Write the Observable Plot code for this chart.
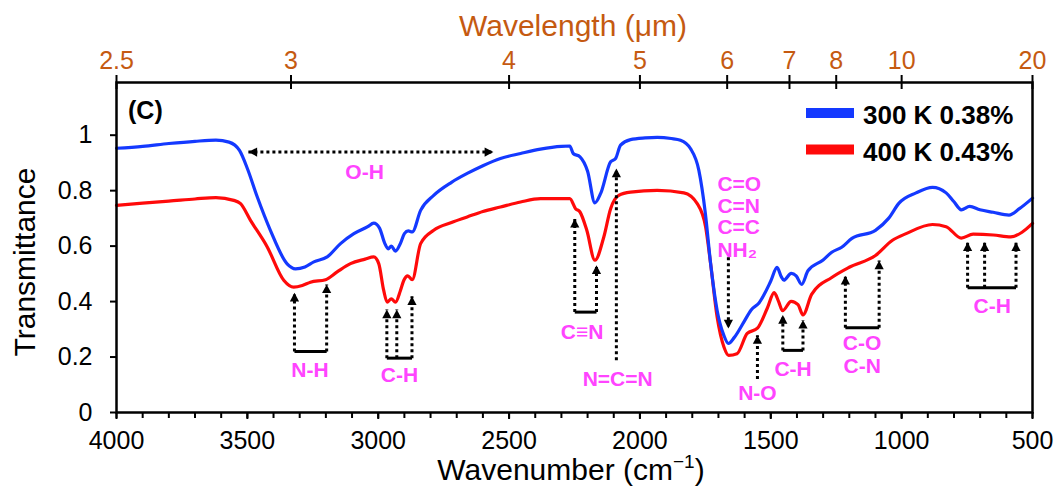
<!DOCTYPE html>
<html><head><meta charset="utf-8">
<script src="https://cdn.jsdelivr.net/npm/d3@7"></script>
<script src="https://cdn.jsdelivr.net/npm/@observablehq/plot@0.6"></script>
<style>
body{margin:0;background:#fff;}
#chart{width:1057px;height:488px;}
</style></head><body><div id="chart"></div>
<script>
const FONT = "'Liberation Sans', Arial, Helvetica, sans-serif";
const PINK = "#ff44ff";
const BLUE = "#1439ff";
const RED = "#ff0a0a";
const ORANGE = "#c55a11";

// 300 K 0.38% (blue)
const wn300 = [4000,3900,3800,3700,3620,3570,3530,3500,3462,3412,3348,3316,3280,3246,3195,3144,3093,3040,3017,2995,2975,2962,2950,2934,2915,2900,2885,2870,2838,2788,2720,2660,2600,2533,2456,2380,2300,2268,2255,2229,2200,2172,2150,2112,2093,2074,2036,1980,1934,1880,1845,1807,1775,1750,1730,1705,1680,1662,1640,1602,1575,1545,1500,1476,1460,1450,1422,1403,1382,1358,1300,1267,1229,1190,1100,1050,1010,945,882,830,800,772,740,701,650,590,550,500];
const t300 = [0.953,0.960,0.970,0.978,0.982,0.975,0.945,0.880,0.777,0.657,0.536,0.518,0.525,0.543,0.561,0.609,0.645,0.670,0.683,0.665,0.610,0.590,0.600,0.582,0.610,0.645,0.655,0.651,0.729,0.783,0.830,0.862,0.890,0.916,0.934,0.950,0.960,0.961,0.934,0.922,0.870,0.756,0.790,0.904,0.916,0.964,0.984,0.990,0.992,0.988,0.982,0.952,0.874,0.718,0.538,0.368,0.280,0.249,0.270,0.328,0.370,0.395,0.474,0.523,0.490,0.477,0.502,0.493,0.462,0.511,0.550,0.578,0.596,0.628,0.657,0.700,0.755,0.792,0.812,0.792,0.760,0.731,0.743,0.731,0.722,0.712,0.735,0.773];

// 400 K 0.43% (red)
const wn400 = [4000,3900,3800,3700,3620,3552,3526,3488,3424,3361,3323,3290,3259,3201,3157,3106,3050,3017,2998,2979,2966,2950,2934,2915,2902,2887,2870,2838,2788,2720,2660,2600,2533,2456,2380,2268,2246,2229,2203,2172,2138,2112,2081,2036,1934,1832,1781,1749,1730,1705,1679,1661,1629,1590,1551,1513,1487,1470,1455,1422,1396,1377,1344,1267,1202,1100,1035,983,882,830,772,727,650,583,540,500];
const t400 = [0.747,0.755,0.762,0.770,0.775,0.765,0.753,0.693,0.597,0.477,0.452,0.458,0.470,0.479,0.507,0.537,0.553,0.561,0.537,0.440,0.398,0.410,0.398,0.440,0.477,0.493,0.479,0.609,0.657,0.685,0.705,0.725,0.741,0.759,0.771,0.771,0.735,0.723,0.657,0.549,0.633,0.735,0.783,0.795,0.801,0.792,0.753,0.669,0.537,0.344,0.236,0.206,0.212,0.285,0.304,0.377,0.432,0.400,0.367,0.401,0.389,0.352,0.426,0.487,0.523,0.566,0.621,0.645,0.678,0.670,0.629,0.643,0.640,0.633,0.650,0.682];

const seriesNames = ["300 K 0.38%", "400 K 0.43%"];

// axes ticks
const wavenumberTicks = [4000,3500,3000,2500,2000,1500,1000,500];
const minorTicks = d3.range(500, 4001, 100);
const wavelengthTicks = [2.5,3,4,5,6,7,8,10,20];
const yTicks = [0,0.2,0.4,0.6,0.8,1];

// annotations (wavenumber, transmittance)
const upArrows = [
  {x:3320, base:0.220, tip:0.432}, {x:3197, base:0.220, tip:0.462},
  {x:2967, base:0.196, tip:0.371}, {x:2929, base:0.196, tip:0.371}, {x:2871, base:0.196, tip:0.419},
  {x:2249, base:0.362, tip:0.699}, {x:2166, base:0.362, tip:0.531},
  {x:2090, base:0.188, tip:0.880},
  {x:1551, base:0.121, tip:0.279},
  {x:1454, base:0.224, tip:0.352}, {x:1377, base:0.224, tip:0.334},
  {x:1215, base:0.306, tip:0.493}, {x:1086, base:0.306, tip:0.548},
  {x:748, base:0.450, tip:0.614}, {x:683, base:0.450, tip:0.614}, {x:563, base:0.450, tip:0.614}
];
const downArrows = [{x:1662, base:0.560, tip:0.303}];
const brackets = [
  {x1:3320, x2:3197, y:0.220},
  {x1:2967, x2:2871, y:0.196},
  {x1:2249, x2:2166, y:0.362},
  {x1:1454, x2:1377, y:0.224},
  {x1:1215, x2:1086, y:0.306},
  {x1:748, x2:563, y:0.450}
];
const hArrows = [{x1:3496, x2:2560, y:0.939}];
const labels = [
  {x:3052, y:0.866, text:"O-H"},
  {x:3261, y:0.151, text:"N-H"},
  {x:2919, y:0.133, text:"C-H"},
  {x:2221, y:0.290, text:"C≡N"},
  {x:2085, y:0.121, text:"N=C=N"},
  {x:1551, y:0.069, text:"N-O"},
  {x:1415, y:0.157, text:"C-H"},
  {x:1151, y:0.249, text:"C-O"},
  {x:1151, y:0.167, text:"C-N"},
  {x:654, y:0.383, text:"C-H"}
];
const stackLabels = [
  {x:1704, y:0.822, text:"C=O"},
  {x:1704, y:0.743, text:"C=N"},
  {x:1704, y:0.667, text:"C=C"},
  {x:1704, y:0.585, text:"NH₂"}
];

const s300 = wn300.map((x,i)=>({x, y:t300[i]}));
const s400 = wn400.map((x,i)=>({x, y:t400[i]}));

function tri(dir){
  return {draw(ctx, size){
    const r = Math.sqrt(size/Math.PI), h = 1.9*r;
    if (dir==="up"){ctx.moveTo(0,0);ctx.lineTo(r,h);ctx.lineTo(-r,h);}
    else if (dir==="down"){ctx.moveTo(0,0);ctx.lineTo(r,-h);ctx.lineTo(-r,-h);}
    else if (dir==="left"){ctx.moveTo(0,0);ctx.lineTo(h,r);ctx.lineTo(h,-r);}
    else {ctx.moveTo(0,0);ctx.lineTo(-h,r);ctx.lineTo(-h,-r);}
    ctx.closePath();
  }};
}

const dotted = {stroke:"black", strokeWidth:3, strokeDasharray:"3,3"};
const pinkText = {fill:PINK, fontWeight:"bold", fontSize:21, fontFamily:FONT};

const chart = Plot.plot({
  width:1057, height:488,
  marginLeft:116, marginRight:25, marginTop:82, marginBottom:76,
  style:{fontFamily:FONT, background:"white", color:"black", overflow:"visible"},
  x:{domain:[4000,500]},
  y:{domain:[0,1.19]},
  marks:[
    Plot.axisY({ticks:yTicks, tickSize:6, tickPadding:18, fontSize:25, tickFormat:d3.format("~g"), label:null, strokeWidth:2}),
    Plot.axisX({ticks:minorTicks, tickSize:6, tickFormat:()=>"", label:null, strokeWidth:2}),
    Plot.axisX({ticks:wavenumberTicks, tickSize:7, tickPadding:12, fontSize:25, tickFormat:d=>String(d), label:null, strokeWidth:2}),
    Plot.axisX({anchor:"top", ticks:wavelengthTicks.map(l=>1e4/l), tickSize:8, tickPadding:6, fontSize:25,
      tickFormat:d=>d3.format("~g")(+(1e4/d).toFixed(2)), label:null, fill:ORANGE, stroke:"black", strokeWidth:2}),
    Plot.axisX({anchor:"top", ticks:wavelengthTicks.map(l=>1e4/l), tickSize:-6, tickFormat:()=>"", label:null, stroke:"black", strokeWidth:2}),
    Plot.line(s400, {x:"x", y:"y", stroke:RED, strokeWidth:3.2, curve:"monotone-x"}),
    Plot.line(s300, {x:"x", y:"y", stroke:BLUE, strokeWidth:3.2, curve:"monotone-x"}),
    Plot.link(upArrows, {x1:"x", x2:"x", y1:"base", y2:"tip", ...dotted}),
    Plot.link(downArrows, {x1:"x", x2:"x", y1:"base", y2:"tip", ...dotted}),
    Plot.link(hArrows, {x1:"x1", x2:"x2", y1:"y", y2:"y", ...dotted}),
    Plot.link(brackets, {x1:"x1", x2:"x2", y1:"y", y2:"y", stroke:"black", strokeWidth:3}),
    Plot.dot(upArrows, {x:"x", y:"tip", symbol:tri("up"), r:4.6, fill:"black", stroke:null}),
    Plot.dot(downArrows, {x:"x", y:"tip", symbol:tri("down"), r:4.6, fill:"black", stroke:null}),
    Plot.dot(hArrows, {x:"x1", y:"y", symbol:tri("left"), r:4.6, fill:"black", stroke:null}),
    Plot.dot(hArrows, {x:"x2", y:"y", symbol:tri("right"), r:4.6, fill:"black", stroke:null}),
    Plot.text(labels, {x:"x", y:"y", text:"text", ...pinkText}),
    Plot.text(stackLabels, {x:"x", y:"y", text:"text", textAnchor:"start", ...pinkText}),
    Plot.frame({stroke:"black", strokeWidth:2.5})
  ]
});

const svg = d3.select(chart);
// axis titles
svg.append("text").attr("x",571).attr("y",480).attr("text-anchor","middle")
  .attr("font-size",30).attr("font-family",FONT).attr("fill","black")
  .call(t=>{t.append("tspan").text("Wavenumber (cm");
            t.append("tspan").attr("dy",-12).attr("font-size",19).text("−1");
            t.append("tspan").attr("dy",12).text(")");});
svg.append("text").attr("transform","translate(35,262) rotate(-90)").attr("text-anchor","middle")
  .attr("font-size",30).attr("font-family",FONT).attr("fill","black").text("Transmittance");
svg.append("text").attr("x",573).attr("y",36).attr("text-anchor","middle")
  .attr("font-size",30).attr("font-family",FONT).attr("fill",ORANGE).text("Wavelength (μm)");
svg.append("text").attr("x",128).attr("y",119).attr("text-anchor","start").attr("font-size",25).attr("font-weight","bold")
  .attr("font-family",FONT).attr("fill","black").text("(C)");
// legend
const legendColors = [BLUE, RED];
seriesNames.forEach((name,i)=>{
  const cy = 113 + i*36.5;
  svg.append("rect").attr("x",806).attr("y",cy-5).attr("width",48).attr("height",10).attr("fill",legendColors[i]);
  svg.append("text").attr("x",863).attr("y",cy+11).attr("text-anchor","start").attr("font-size",26).attr("font-weight","bold")
    .attr("font-family",FONT).attr("fill","black").text(name);
});

document.getElementById("chart").appendChild(chart);
</script></body></html>
